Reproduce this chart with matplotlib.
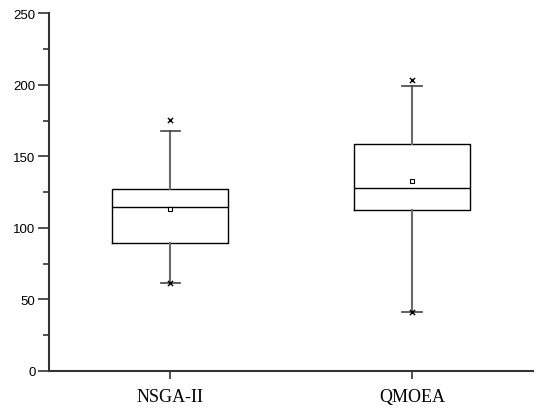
import matplotlib
matplotlib.use("Agg")
import matplotlib.pyplot as plt
from matplotlib.ticker import MultipleLocator

algorithms = ["NSGA-II", "QMOEA"]
q1 = [89.3, 112.4]
medians = [114.5, 127.6]
q3 = [127.1, 158.4]
means = [113.3, 132.7]
whisker_low = [61.6, 41.5]
whisker_high = [167.7, 198.9]
minimums = [61.6, 41.5]
maximums = [175.6, 203.3]

stats = []
for i, name in enumerate(algorithms):
    stats.append({
        "label": name,
        "q1": q1[i], "med": medians[i], "q3": q3[i], "mean": means[i],
        "whislo": whisker_low[i], "whishi": whisker_high[i], "fliers": [],
    })

fig = plt.figure(figsize=(5.36, 4.10), dpi=100)
ax = fig.add_axes([0.092, 0.093, 0.902, 0.872])

positions = [1, 2]
ax.bxp(stats, positions=positions, widths=0.48, showmeans=True,
       boxprops=dict(color="black", linewidth=1.0),
       medianprops=dict(color="black", linewidth=1.0),
       whiskerprops=dict(color="#6a6a6a", linewidth=1.5),
       capprops=dict(color="#444444", linewidth=1.2),
       capwidths=0.08,
       meanprops=dict(marker="s", markerfacecolor="white", markeredgecolor="black",
                      markersize=3.3, markeredgewidth=0.8))

ax.scatter(positions, maximums, marker="x", color="black", s=14, linewidths=1.0, zorder=3)
ax.scatter(positions, minimums, marker="x", color="black", s=14, linewidths=1.0, zorder=3)

ax.set_xlim(0.5, 2.5)
ax.set_ylim(0, 250)
ax.yaxis.set_major_locator(MultipleLocator(50))
ax.yaxis.set_minor_locator(MultipleLocator(25))
ax.set_xticks(positions)
ax.set_xticklabels(algorithms, fontfamily="Liberation Serif", fontsize=13)
for lab in ax.get_yticklabels():
    lab.set_fontfamily("Liberation Sans")
    lab.set_fontsize(9.5)

for side in ["top", "right"]:
    ax.spines[side].set_visible(False)
for side in ["left", "bottom"]:
    ax.spines[side].set_color("#333333")
    ax.spines[side].set_linewidth(1.5)

ax.tick_params(axis="y", which="major", length=8, width=1.2, color="#333333", pad=2)
ax.tick_params(axis="y", which="minor", length=4, width=1.2, color="#333333")
ax.tick_params(axis="x", which="major", length=6, width=1.2, color="#333333", pad=6)

fig.savefig("out.png", dpi=100)
